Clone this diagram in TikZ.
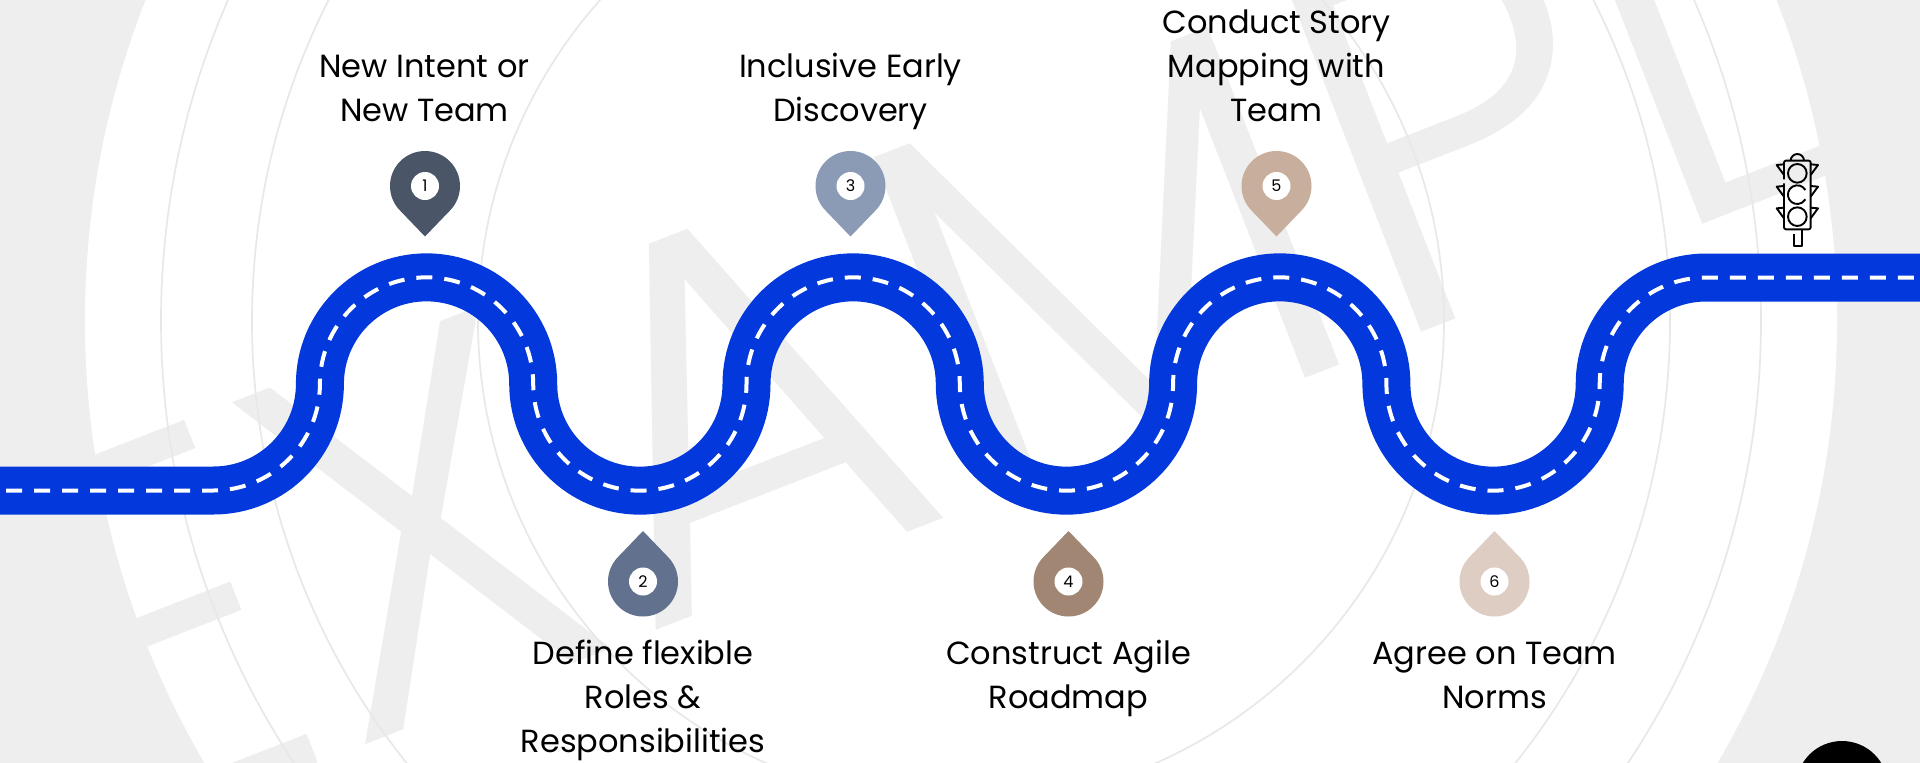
\documentclass[tikz,border=0pt]{standalone}
\usepackage{fontspec}
\setmainfont{Poppins}
\newfontfamily\wmfont{Poppins Light}
\definecolor{bggray}{HTML}{EEEEEE}
\definecolor{ringgray}{HTML}{E8E8E8}
\definecolor{road}{HTML}{0339DC}
\definecolor{pinA}{HTML}{4A5568}
\definecolor{pinB}{HTML}{62718D}
\definecolor{pinC}{HTML}{8C9BB5}
\definecolor{pinD}{HTML}{A08673}
\definecolor{pinE}{HTML}{C8AE9C}
\definecolor{pinF}{HTML}{DDCDC3}
\tikzset{
  wmletter/.style={anchor=base west,inner sep=0pt,outer sep=0pt,rotate=21.3,text=bggray,font=\wmfont\fontsize{525}{525}\selectfont},
  ringline/.style={draw=ringgray,line width=1.7pt},
  label/.style={align=center,inner sep=0pt,font=\fontsize{32}{44}\selectfont,text=black},
  pinnum/.style={circle,fill=white,minimum size=28pt,inner sep=0pt,font=\fontsize{16}{16}\selectfont,text=black},
  lightline/.style={draw=black,line width=1.9pt,line join=round}
}
\newcommand{\mypin}[6]{% name,x,y,colour,flip(1 or -1),number
  \fill[#4,shift={(#2,#3)},yscale=#5] (0,50.5) -- (-24.75,24.75) arc[start angle=135,end angle=405,radius=35] -- cycle;
  \node[pinnum] (#1) at (#2,#3) {#6};
}
\begin{document}
\begin{tikzpicture}[x=1pt,y=-1pt]
\useasboundingbox (0,0) rectangle (1920,763);
\fill[bggray] (0,0) rectangle (1920,763);
\begin{scope}
\clip (0,0) rectangle (1920,763);
\fill[white] (961,321) circle[radius=876];
\node[wmletter] (wE) at (100,847) {E};
\node[wmletter] (wX) at (345,752) {X};
\node[wmletter] (wA) at (640,636) {A};
\node[wmletter] (wM) at (966,510) {M};
\node[wmletter] (wP) at (1382,347) {P};
\node[wmletter] (wL) at (1663,239) {L};
\node[wmletter] (wF) at (1869,158) {E};
\draw[ringline] (961,321) circle[radius=800];
\draw[ringline] (961,321) circle[radius=709];
\draw[ringline] (961,321) circle[radius=483];
\fill[black] (1842,787) circle[radius=46];
\end{scope}
% road
\def\roadpath{(0,490.5) -- (213.4,490.5)
 arc[start angle=90,end angle=0,radius=106.5]
 arc[start angle=180,end angle=360,radius=106.65]
 arc[start angle=180,end angle=0,radius=106.65]
 arc[start angle=180,end angle=360,radius=106.65]
 arc[start angle=180,end angle=0,radius=106.65]
 arc[start angle=180,end angle=360,radius=106.65]
 arc[start angle=180,end angle=0,radius=106.65]
 arc[start angle=180,end angle=270,radius=106.5] -- (1920,277.5)}
\draw[road,line width=48pt] \roadpath;
\draw[white,line width=4pt,dash pattern=on 16pt off 12pt,dash phase=22pt] \roadpath;
% pins
\mypin{p1}{425}{186}{pinA}{1}{1}
\mypin{p2}{643}{581.5}{pinB}{-1}{2}
\mypin{p3}{850.5}{186}{pinC}{1}{3}
\mypin{p4}{1068.5}{581.5}{pinD}{-1}{4}
\mypin{p5}{1276.5}{186}{pinE}{1}{5}
\mypin{p6}{1494.5}{581.5}{pinF}{-1}{6}
% labels
\node[label] (t1) at (424.5,91) {\strut New Intent or\\\strut New Team};
\node[label] (t2) at (643,700) {\strut Define flexible\\\strut Roles \&\\\strut Responsibilities};
\node[label] (t3) at (850.5,91) {\strut Inclusive Early\\\strut Discovery};
\node[label] (t4) at (1068.5,678) {\strut Construct Agile\\\strut Roadmap};
\node[label] (t5) at (1276.5,69) {\strut Conduct Story\\\strut Mapping with\\\strut Team};
\node[label] (t6) at (1494.5,678) {\strut Agree on Team\\\strut Norms};
% traffic light
\begin{scope}[shift={(1700,130)},x=0.3333pt,y=-0.3333pt]
\draw[lightline,rounded corners=2pt] (252,148) -- (252,92) -- (332,92) -- (332,298) -- (252,298) -- (252,160);
\draw[lightline] (272,92) arc[start angle=180,end angle=360,radius=20];
\draw[lightline] (292,130) circle[radius=28];
\draw[lightline] (292,260) circle[radius=28];
\draw[lightline] (316,180) arc[start angle=-30,end angle=-330,radius=28];
\foreach \vy in {0,65,130}{
  \draw[lightline] (252,{103+\vy}) -- (230,{105+\vy}) -- (252,{135+\vy});
  \draw[lightline] (332,{103+\vy}) -- (354,{105+\vy}) -- (332,{135+\vy});
}
\draw[lightline] (282,312) -- (282,348) -- (305,348) -- (305,298);
\end{scope}
\end{tikzpicture}
\end{document}
